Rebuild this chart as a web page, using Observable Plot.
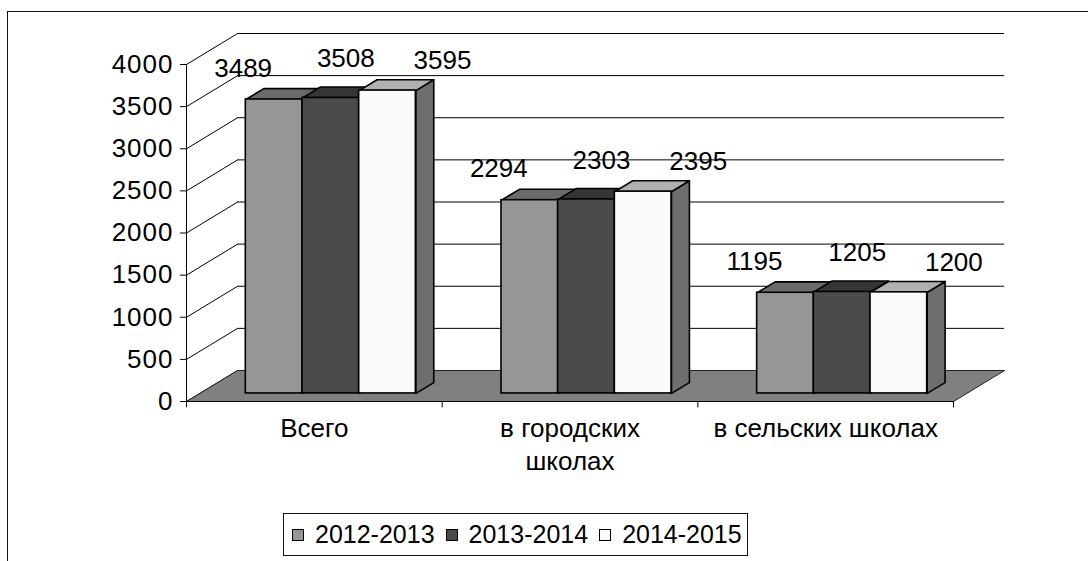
<!DOCTYPE html>
<html>
<head>
<meta charset="utf-8">
<script src="https://cdn.jsdelivr.net/npm/d3@7"></script>
<script src="https://cdn.jsdelivr.net/npm/@observablehq/plot@0.6"></script>
<style>
  html, body { margin: 0; padding: 0; background: #fff; width: 1088px; height: 561px; overflow: hidden; }
  #frame { position: absolute; left: 7px; top: 11px; width: 1200px; height: 700px; border: 1.5px solid #111; box-sizing: border-box; }
  #chart { position: absolute; left: 0; top: 0; }
  #chart svg text { font-family: "Liberation Sans", Arial, sans-serif; }
  g[aria-label="y-axis tick label"] text { letter-spacing: 1px; }
  g[aria-label="value labels"] text { letter-spacing: 1.5px; }
  g[aria-label="category labels"] text { letter-spacing: 1.5px; }
  #legend { position: absolute; left: 283px; top: 513px; width: 465px; height: 43px; border: 1px solid #111; box-sizing: border-box;
            display: flex; align-items: center; padding-left: 8px; font: 25px "Liberation Sans", Arial, sans-serif; color: #000; white-space: nowrap; }
  #legend .item { display: flex; align-items: center; margin-right: 11px; flex-shrink: 0; }
  #legend .sw { width: 10px; height: 10px; border: 1px solid #000; margin-right: 11px; flex-shrink: 0; }
</style>
</head>
<body>
<div id="frame"></div>
<div id="chart"></div>
<div id="legend"></div>
<script>
// ---- data ----
const categories = ["Всего", "в городских\nшколах", "в сельских школах"];
const seriesNames = ["2012-2013", "2013-2014", "2014-2015"];
const values2012 = [3489, 2294, 1195];
const values2013 = [3508, 2303, 1205];
const values2014 = [3595, 2395, 1200];
const yTicks = [0, 500, 1000, 1500, 2000, 2500, 3000, 3500, 4000];

// ---- styles ----
const frontFill = ["#969696", "#4b4b4b", "#fafafa"];
const topFill = ["#6b6b6b", "#353535", "#b0b0b0"];
const sideFill = ["#6a6a6a", "#333333", "#6e6e6e"];
const labelDx = [-31, 15, 55];
const labelDy = [-31, -39, -30];
const FONT = 26;

// ---- 3D geometry (in scale units) ----
const WALL_DX = 0.2, WALL_DY = 368;      // depth of the chart box
const BAR_F0 = 0.26, BAR_F1 = 0.61;       // bar depth range (fraction of box depth)
const GROUP_OFFSET = 0.18, BAR_W = 0.2217;

const valueSets = [values2012, values2013, values2014];
const bars = [];
categories.forEach((c, g) => valueSets.forEach((vals, s) => {
  const v = vals[g];
  const x0 = g + GROUP_OFFSET + s * BAR_W + BAR_F0 * WALL_DX;
  const x1 = x0 + BAR_W;
  const yb = BAR_F0 * WALL_DY, yt = v + yb;
  const ddx = (BAR_F1 - BAR_F0) * WALL_DX, ddy = (BAR_F1 - BAR_F0) * WALL_DY;
  bars.push({g, s, v, x0, x1, yb, yt, ddx, ddy});
}));
const poly = (id, pts) => [...pts, pts[0]].map(([x, y]) => ({id, x, y}));
const topFaces = s => bars.filter(b => b.s === s).flatMap(b =>
  poly(`t${b.g}${b.s}`, [[b.x0, b.yt], [b.x1, b.yt], [b.x1 + b.ddx, b.yt + b.ddy], [b.x0 + b.ddx, b.yt + b.ddy]]));
const sideFaces = s => bars.filter(b => b.s === s).flatMap(b =>
  poly(`s${b.g}${b.s}`, [[b.x1, b.yb], [b.x1 + b.ddx, b.yb + b.ddy], [b.x1 + b.ddx, b.yt + b.ddy], [b.x1, b.yt]]));
const nCat = categories.length;
const floor = poly("floor", [[0, 0], [nCat, 0], [nCat + WALL_DX, WALL_DY], [WALL_DX, WALL_DY]]);
const S = [0, 1, 2];

const plot = Plot.plot({
  width: 1088,
  height: 500,
  marginLeft: 186,
  marginRight: 135,
  marginTop: 64,
  marginBottom: 99,
  style: {fontFamily: "Liberation Sans, Arial, sans-serif", fontSize: FONT + "px", background: "transparent", overflow: "visible", color: "#000"},
  x: {domain: [0, nCat], axis: null},
  y: {domain: [0, 4000]},
  marks: [
    // walls
    Plot.link(yTicks, {x1: 0, y1: d => d, x2: WALL_DX, y2: d => d + WALL_DY, stroke: "#000", strokeWidth: 1}),
    Plot.ruleY(yTicks, {y: d => d + WALL_DY, x1: WALL_DX, x2: nCat + WALL_DX, stroke: "#000", strokeWidth: 1}),
    // floor
    Plot.line(floor, {x: "x", y: "y", z: "id", fill: "#808080", stroke: "#222", strokeWidth: 1}),
    // bars: sides, tops, fronts
    ...S.map(s => Plot.line(sideFaces(s), {x: "x", y: "y", z: "id", fill: sideFill[s], stroke: "#000", strokeWidth: 1.6, strokeLinejoin: "round"})),
    ...S.map(s => Plot.line(topFaces(s), {x: "x", y: "y", z: "id", fill: topFill[s], stroke: "#000", strokeWidth: 1.6, strokeLinejoin: "round"})),
    ...S.map(s => Plot.rect(bars.filter(b => b.s === s), {x1: "x0", x2: "x1", y1: "yb", y2: "yt", fill: frontFill[s], stroke: "#000", strokeWidth: 1.6})),
    // axes
    Plot.ruleX([0], {y1: 0, y2: 4000, stroke: "#000", strokeWidth: 1}),
    Plot.ruleY([0], {x1: 0, x2: nCat, stroke: "#000", strokeWidth: 1.2}),
    Plot.ruleX(d3.range(nCat + 1), {y1: 0, y2: -75, stroke: "#000", strokeWidth: 1}),
    Plot.axisY(yTicks, {anchor: "left", tickSize: 6, tickPadding: 7, label: null, fontSize: FONT, tickFormat: d => String(d)}),
    Plot.text(categories, {x: (d, i) => i + 0.5, y: 0, dy: 11, lineAnchor: "top", lineHeight: 1.3, fontSize: FONT, fill: "#000", ariaLabel: "category labels"}),
    // value labels
    ...S.map(s => Plot.text(bars.filter(b => b.s === s), {x: d => (d.x0 + d.x1) / 2, y: "yt", text: d => String(d.v), dx: labelDx[s], dy: labelDy[s], fontSize: FONT, fill: "#000", ariaLabel: "value labels"}))
  ]
});
document.getElementById("chart").append(plot);

// legend
const legend = document.getElementById("legend");
seriesNames.forEach((name, i) => {
  const item = document.createElement("div");
  item.className = "item";
  const sw = document.createElement("span");
  sw.className = "sw";
  sw.style.background = frontFill[i];
  const label = document.createElement("span");
  label.textContent = name;
  item.append(sw, label);
  legend.append(item);
});
</script>
</body>
</html>
